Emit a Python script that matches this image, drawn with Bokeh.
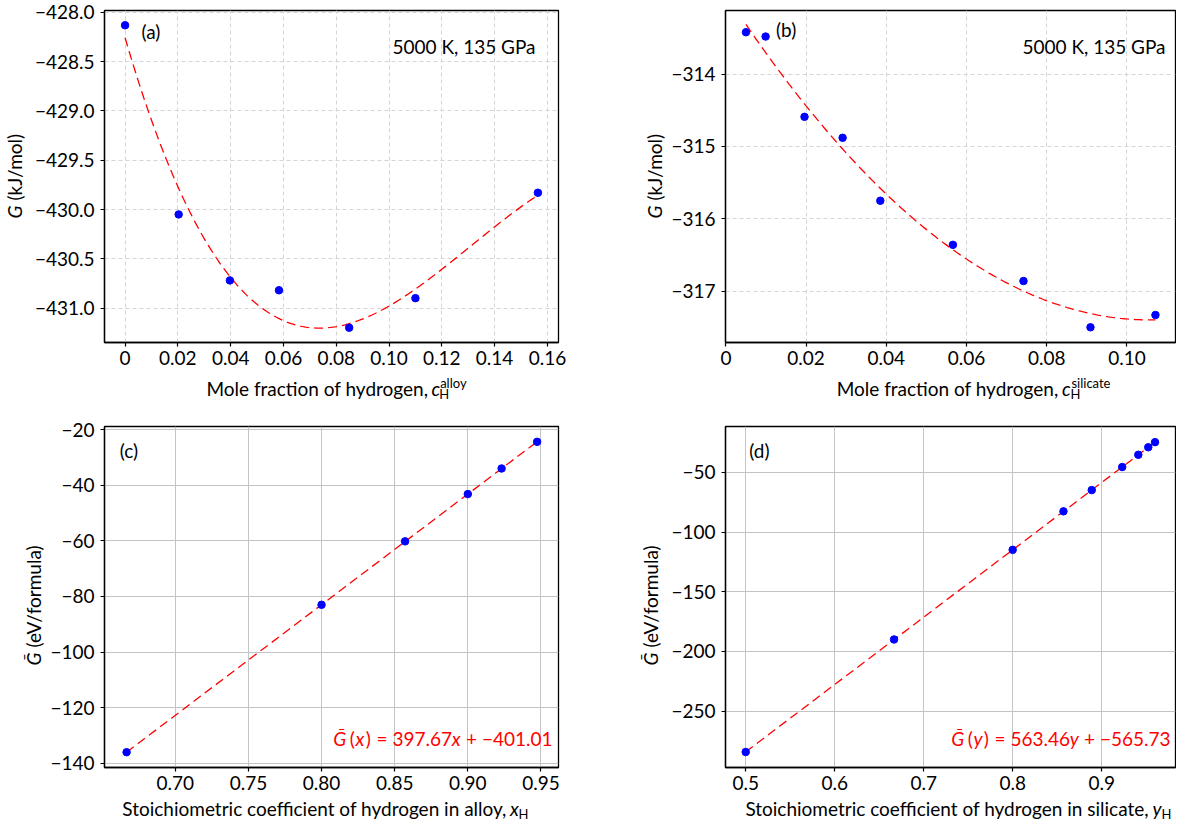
import numpy as np
from bokeh.plotting import figure
from bokeh.layouts import row, column
from bokeh.models import Range1d, FixedTicker, Label
from bokeh.embed import file_html
from bokeh.resources import INLINE

# ---------------- data ----------------
a_x = [0.0, 0.0203, 0.0397, 0.0583, 0.0849, 0.1100, 0.1564]
a_G = [-428.13, -430.05, -430.72, -430.82, -431.20, -430.90, -429.83]

b_x = [0.0050, 0.0099, 0.0196, 0.0291, 0.0385, 0.0566, 0.0742, 0.0909, 0.1071]
b_G = [-313.42, -313.48, -314.59, -314.88, -315.75, -316.36, -316.86, -317.50, -317.33]

c_x = [0.6667, 0.8000, 0.8571, 0.9000, 0.9231, 0.9474]
c_G = [-136.0, -83.0, -60.2, -43.2, -34.0, -24.4]

d_x = [0.5000, 0.6667, 0.8000, 0.8571, 0.8889, 0.9231, 0.9412, 0.9524, 0.9600]
d_G = [-284.3, -190.0, -114.9, -82.6, -64.8, -45.5, -35.2, -28.9, -24.6]

a_xticks = [0.0, 0.02, 0.04, 0.06, 0.08, 0.10, 0.12, 0.14, 0.16]
a_xlabels = ["0", "0.02", "0.04", "0.06", "0.08", "0.10", "0.12", "0.14", "0.16"]
a_yticks = [-431.0, -430.5, -430.0, -429.5, -429.0, -428.5, -428.0]
a_ylabels = ["\u2212431.0", "\u2212430.5", "\u2212430.0", "\u2212429.5", "\u2212429.0", "\u2212428.5", "\u2212428.0"]

b_xticks = [0.0, 0.02, 0.04, 0.06, 0.08, 0.10]
b_xlabels = ["0", "0.02", "0.04", "0.06", "0.08", "0.10"]
b_yticks = [-317.0, -316.0, -315.0, -314.0]
b_ylabels = ["\u2212317", "\u2212316", "\u2212315", "\u2212314"]

c_xticks = [0.70, 0.75, 0.80, 0.85, 0.90, 0.95]
c_xlabels = ["0.70", "0.75", "0.80", "0.85", "0.90", "0.95"]
c_yticks = [-140, -120, -100, -80, -60, -40, -20]
c_ylabels = ["\u2212140", "\u2212120", "\u2212100", "\u221280", "\u221260", "\u221240", "\u221220"]

d_xticks = [0.5, 0.6, 0.7, 0.8, 0.9]
d_xlabels = ["0.5", "0.6", "0.7", "0.8", "0.9"]
d_yticks = [-250, -200, -150, -100, -50]
d_ylabels = ["\u2212250", "\u2212200", "\u2212150", "\u2212100", "\u221250"]

cond_text = "5000 K, 135 GPa"
eq_c_parts = [("\u1E20", True), ("(", False), ("x", True), (")", False), ("=", False),
              ("397.67", False), ("x", True), ("+", False), ("\u2212401.01", False)]
eq_d_parts = [("\u1E20", True), ("(", False), ("y", True), (")", False), ("=", False),
              ("563.46", False), ("y", True), ("+", False), ("\u2212565.73", False)]
eq_gaps = [3, 0, 1, 5, 5, 0, 5, 5, 0]

# ---------------- style ----------------
FONT = "Lato"
FS = 19
TICK_FS = "19px"

# approximate advance widths (em) for laying out mixed-style text
W = {"d": 0.58, ".": 0.23, "+": 0.58, "\u2212": 0.58, "=": 0.58,
     "(": 0.30, ")": 0.30, "x": 0.48, "y": 0.48, "\u1E20": 0.72, "c": 0.45}


def text_w(s, size):
    tot = 0.0
    for ch in s:
        tot += W["d"] if ch.isdigit() else W.get(ch, 0.5)
    return tot * size


def make_fig(xr, yr, w, h, bl, br, bt, bb, xt, xl, yt, yl, grid_dash, grid_color):
    p = figure(width=w, height=h, x_range=Range1d(*xr), y_range=Range1d(*yr),
               output_backend="svg", toolbar_location=None,
               min_border_left=bl, min_border_right=br, min_border_top=bt, min_border_bottom=bb)
    p.outline_line_color = "black"
    p.outline_line_width = 1.3
    p.background_fill_color = "white"
    p.border_fill_color = "white"
    for ax, ticks, labels in ((p.xaxis[0], xt, xl), (p.yaxis[0], yt, yl)):
        ax.ticker = FixedTicker(ticks=ticks)
        ax.major_label_overrides = {t: l for t, l in zip(ticks, labels)}
        ax.axis_line_color = "black"
        ax.axis_line_width = 1.3
        ax.major_tick_line_color = "black"
        ax.major_tick_line_width = 1.2
        ax.major_tick_out = 4
        ax.major_tick_in = 0
        ax.minor_tick_out = 0
        ax.minor_tick_in = 0
        ax.major_label_text_font = FONT
        ax.major_label_text_font_size = TICK_FS
        ax.major_label_text_color = "black"
        ax.axis_label = None
    p.xaxis[0].major_label_standoff = 4
    p.yaxis[0].major_label_standoff = 6
    p.xgrid[0].ticker = FixedTicker(ticks=xt)
    p.ygrid[0].ticker = FixedTicker(ticks=yt)
    for g in (p.xgrid[0], p.ygrid[0]):
        g.grid_line_color = grid_color
        g.grid_line_width = 1
        g.grid_line_dash = grid_dash
    return p


def strip(w, h):
    s = figure(width=w, height=h, x_range=Range1d(0, w), y_range=Range1d(0, h),
               output_backend="svg", toolbar_location=None,
               x_axis_location=None, y_axis_location=None,
               min_border_left=0, min_border_right=0, min_border_top=0, min_border_bottom=0)
    s.grid.visible = False
    s.outline_line_color = None
    s.background_fill_color = "white"
    s.border_fill_color = "white"
    return s


def lab(p, x, y, text, size=FS, italic=False, color="black", align="left",
        baseline="middle", angle=0.0, units="data"):
    p.add_layout(Label(x=x, y=y, x_units=units, y_units=units, text=text,
                       text_font=FONT, text_font_size=f"{size}px",
                       text_font_style="italic" if italic else "normal",
                       text_color=color, text_align=align, text_baseline=baseline,
                       angle=angle))


def xlabel(s, pos, y, main, var, sup):
    lab(s, pos - 4, y, main, align="right")
    lab(s, pos, y, var, italic=True)
    wv = text_w(var, FS) + 1
    lab(s, pos + wv, y - 5, "H", size=13)
    if sup:
        lab(s, pos + wv + 1, y + 6, sup, size=13)


def ylabel(s, x, pos, sym, rest):
    lab(s, x, pos, sym, italic=True, align="right", angle=np.pi / 2)
    lab(s, x, pos + 5, rest, align="left", angle=np.pi / 2)


def equation(p, x_right, y, parts, gaps, color="red"):
    total = sum(text_w(t, FS) for t, _ in parts) + sum(gaps)
    x = x_right - total
    for (txt, it), g in zip(parts, gaps):
        lab(p, x, y, txt, italic=it, color=color, units="screen")
        x += text_w(txt, FS) + g


def fit_curve(xs, ys, deg, n=200):
    coef = np.polyfit(xs, ys, deg)
    xx = np.linspace(min(xs), max(xs), n)
    return xx, np.polyval(coef, xx)


PT = dict(size=7.5, color="blue", line_color="blue")
LN = dict(line_color="red", line_dash="9 5", line_width=1.3)

TOP_H = 404
BOT_H = 417

# ---------------- panel (a) ----------------
pa = make_fig((-0.0078, 0.1642), (-431.35, -427.98), 558, 373, 74, 30, 10, 31,
              a_xticks, a_xlabels, a_yticks, a_ylabels, "4 3", "#d4d4d4")
fx, fy = fit_curve(a_x, a_G, 3)
pa.line(fx, fy, **LN)
pa.scatter(a_x, a_G, **PT)
lab(pa, 0.0062, -428.19, "(a)")
lab(pa, 431, 296, cond_text, align="right", units="screen")
ya = strip(30, TOP_H)
ylabel(ya, 14, 199, "G", "(kJ/mol)")
xa = strip(558, TOP_H - 373)
xlabel(xa, 402, 16, "Mole fraction of hydrogen,", "c", "alloy")

# ---------------- panel (b) ----------------
pb = make_fig((-0.0001, 0.1121), (-317.71, -313.12), 508, 373, 57, 1, 10, 31,
              b_xticks, b_xlabels, b_yticks, b_ylabels, "4 3", "#d4d4d4")
fx, fy = fit_curve(b_x, b_G, 2)
pb.line(fx, fy, **LN)
pb.scatter(b_x, b_G, **PT)
lab(pb, 0.0125, -313.38, "(b)")
lab(pb, 440, 296, cond_text, align="right", units="screen")
yb = strip(80, TOP_H)
ylabel(yb, 66, 199, "G", "(kJ/mol)")
xb = strip(508, TOP_H - 373)
xlabel(xb, 380, 16, "Mole fraction of hydrogen,", "c", "silicate")

# ---------------- panel (c) ----------------
pc = make_fig((0.6516, 0.962), (-141.5, -18.9), 544, 393, 60, 30, 22, 30,
              c_xticks, c_xlabels, c_yticks, c_ylabels, "solid", "#c4c4c4")
fx, fy = fit_curve(c_x, c_G, 1, 2)
pc.line(fx, fy, **LN)
pc.scatter(c_x, c_G, **PT)
lab(pc, 0.662, -27.5, "(c)")
equation(pc, 448, 29, eq_c_parts, eq_gaps)
yc = strip(44, BOT_H)
ylabel(yc, 33, 169, "\u1E20", "(eV/formula)")
xc = strip(544, BOT_H - 393)
xlabel(xc, 486, 13, "Stoichiometric coefficient of hydrogen in alloy,", "x", None)

# ---------------- panel (d) ----------------
pd_ = make_fig((0.4773, 0.983), (-297.3, -11.5), 508, 393, 57, 1, 22, 30,
               d_xticks, d_xlabels, d_yticks, d_ylabels, "solid", "#c4c4c4")
fx, fy = fit_curve(d_x, d_G, 1, 2)
pd_.line(fx, fy, **LN)
pd_.scatter(d_x, d_G, **PT)
lab(pd_, 0.504, -31.4, "(d)")
equation(pd_, 445, 29, eq_d_parts, eq_gaps)
yd = strip(80, BOT_H)
ylabel(yd, 62, 169, "\u1E20", "(eV/formula)")
xd = strip(508, BOT_H - 393)
xlabel(xd, 482, 13, "Stoichiometric coefficient of hydrogen in silicate,", "y", None)

top = row(ya, column(pa, xa), yb, column(pb, xb))
bottom = row(yc, column(pc, xc), yd, column(pd_, xd))
layout = column(top, bottom)
open("out.html", "w").write(file_html(layout, INLINE))
